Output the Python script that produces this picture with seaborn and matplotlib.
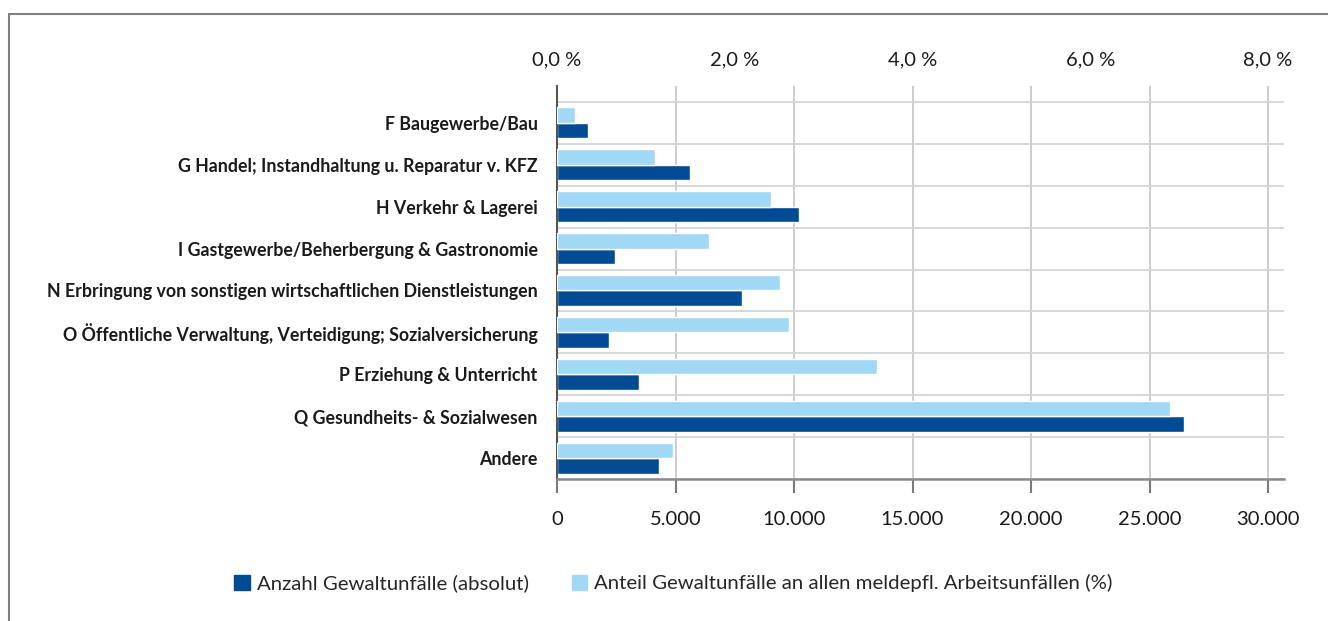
import matplotlib
matplotlib.use('Agg')
import matplotlib.pyplot as plt
from matplotlib.lines import Line2D
from matplotlib.patches import Patch
import seaborn as sns
import pandas as pd
import numpy as np

# Daten
categories = [
    'F Baugewerbe/Bau',
    'G Handel; Instandhaltung u. Reparatur v. KFZ',
    'H Verkehr & Lagerei',
    'I Gastgewerbe/Beherbergung & Gastronomie',
    'N Erbringung von sonstigen wirtschaftlichen Dienstleistungen',
    'O Öffentliche Verwaltung, Verteidigung; Sozialversicherung',
    'P Erziehung & Unterricht',
    'Q Gesundheits- & Sozialwesen',
    'Andere',
]
absolute = [1310, 5610, 10210, 2450, 7810, 2190, 3460, 26460, 4300]
percent = [0.20, 1.10, 2.41, 1.71, 2.51, 2.61, 3.60, 6.90, 1.31]
abs_ticks = [0, 5000, 10000, 15000, 20000, 25000, 30000]
pct_ticks = [0, 2, 4, 6, 8]

label_abs = 'Anzahl Gewaltunfälle (absolut)'
label_pct = 'Anteil Gewaltunfälle an allen meldepfl. Arbeitsunfällen (%)'

DARK = '#004b93'
LIGHT = '#a1d8f5'

sns.set_theme(style='white')
plt.rcParams['font.family'] = ['Lato', 'DejaVu Sans']

df_abs = pd.DataFrame({'Kategorie': categories, 'Wert': absolute, 'Reihe': label_abs})
df_pct = pd.DataFrame({'Kategorie': categories, 'Wert': percent, 'Reihe': label_pct})
hue_order = [label_pct, label_abs]
palette = {label_abs: DARK, label_pct: LIGHT}

fig = plt.figure(figsize=(13.28, 6.21), dpi=100)
ax = fig.add_axes([557 / 1328, 1 - 479 / 621, (1284 - 557) / 1328, (479 - 86) / 621])
ax_top = ax.twiny()

sns.barplot(data=df_abs, x='Wert', y='Kategorie', hue='Reihe', hue_order=hue_order,
            order=categories, palette=palette, orient='h', width=0.74, dodge=True,
            saturation=1, errorbar=None, legend=False, ax=ax)
sns.barplot(data=df_pct, x='Wert', y='Kategorie', hue='Reihe', hue_order=hue_order,
            order=categories, palette=palette, orient='h', width=0.74, dodge=True,
            saturation=1, errorbar=None, legend=False, ax=ax_top)

# Achsen
xmax = 30675
ax.set_xlim(0, xmax)
ax_top.set_xlim(0, 8 * xmax / 30000)
ax.set_ylim(len(categories) - 0.5, -0.88)

ax.set_xticks(abs_ticks)
ax.set_xticklabels([f"{v:,.0f}".replace(',', '.') for v in abs_ticks])
ax_top.set_xticks(pct_ticks)
ax_top.set_xticklabels([f"{v:.1f} %".replace('.', ',') for v in pct_ticks])

ax.set_xlabel('')
ax.set_ylabel('')
ax_top.set_xlabel('')
ax_top.set_ylabel('')

ax.set_yticks(np.arange(-0.5, len(categories)), minor=True)
ax.grid(axis='x', which='major', color='#c8c8c8', lw=1.3)
ax.grid(axis='y', which='minor', color='#d4d4d4', lw=1.3)
ax.grid(axis='y', which='major', visible=False)
ax.set_axisbelow(True)

for s in ['top', 'right']:
    ax.spines[s].set_visible(False)
for s in ax_top.spines.values():
    s.set_visible(False)
ax.spines['left'].set_color('#555555')
ax.spines['left'].set_linewidth(1.5)
ax.spines['bottom'].set_color('#8a8a8a')
ax.spines['bottom'].set_linewidth(1.8)

ax.tick_params(axis='x', which='major', bottom=True, length=10, width=1.5,
               color='#7a7a7a', pad=13, labelsize=14.5, labelcolor='#1a1a1a')
ax.tick_params(axis='y', which='both', length=0, pad=14, labelsize=12.8)
ax_top.tick_params(axis='x', length=0, pad=13, labelsize=14.5, labelcolor='#1a1a1a')
for lbl in ax.get_yticklabels():
    lbl.set_fontweight('bold')
    lbl.set_color('#1a1a1a')

# Rahmen
fig.add_artist(Line2D([9 / 1328, 1], [1 - 14 / 621] * 2, transform=fig.transFigure,
                      color='#808080', lw=1.5))
fig.add_artist(Line2D([9 / 1328] * 2, [0, 1 - 14 / 621], transform=fig.transFigure,
                      color='#808080', lw=1.5))

# Legende
handles = [Patch(color=DARK, label=label_abs), Patch(color=LIGHT, label=label_pct)]
fig.legend(handles=handles, loc='center', bbox_to_anchor=(0.507, 0.061), ncol=2,
           frameon=False, handlelength=0.75, handleheight=0.75, handletextpad=0.35,
           columnspacing=2.1, fontsize=14.7)

fig.savefig('out.png', dpi=100)
